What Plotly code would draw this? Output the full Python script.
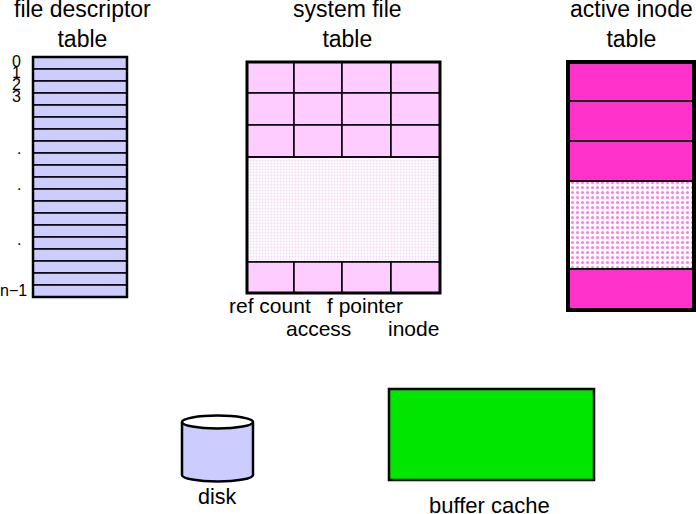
import plotly.graph_objects as go

# 文本与结构数据
titles = ['file descriptor<br>table', 'system file<br>table', 'active inode<br>table']
fd_row_count = 20
fd_row_labels = ['0', '1', '2', '3', '.', '.', '.', 'n\u22121']
fd_label_y = [61, 72, 84, 96, 148, 184, 239, 290]
sft_columns = ['ref count', 'access', 'f pointer', 'inode']
sft_rows = ['entry', 'entry', 'entry', 'free', 'entry']
inode_rows = ['entry', 'entry', 'entry', 'free', 'entry']
bottom_labels = ['disk', 'buffer cache']

FONT = 'Liberation Sans, Arial, sans-serif'
W, H = 696, 514

fig = go.Figure()
shapes = []
annotations = []


def rect(x0, y0, x1, y1, fill, lw=1.5, lc='black', layer='above'):
    shapes.append(dict(type='rect', x0=x0, y0=y0, x1=x1, y1=y1,
                       fillcolor=fill, line=dict(color=lc, width=lw), layer=layer))


def dotted(x0, y0, x1, y1, fg, size, solidity):
    fig.add_trace(go.Scatter(
        x=[x0, x1, x1, x0, x0], y=[y0, y0, y1, y1, y0],
        mode='lines', fill='toself', line=dict(width=0),
        fillpattern=dict(shape='.', fgcolor=fg, bgcolor='white',
                         size=size, solidity=solidity),
        hoverinfo='skip', showlegend=False))


def text(x, y, s, size, xanchor='center'):
    annotations.append(dict(x=x, y=y, text=s, showarrow=False, xanchor=xanchor,
                            yanchor='middle', font=dict(family=FONT, size=size, color='black')))


# 标题
for cx, t in zip([82, 347, 631], titles):
    annotations.append(dict(x=cx, y=24, text=t, showarrow=False, xanchor='center',
                            yanchor='middle', align='center',
                            font=dict(family=FONT, size=23, color='black')))

# file descriptor table
fx0, fx1, fy0, fy1 = 33, 127, 57, 297
rh = (fy1 - fy0) / fd_row_count
for i in range(fd_row_count):
    rect(fx0, fy0 + i * rh, fx1, fy0 + (i + 1) * rh, '#ccccff', lw=1.5)
shapes.append(dict(type='rect', x0=fx0, y0=fy0, x1=fx1, y1=fy1,
                   line=dict(color='black', width=2.5)))
for lab, ly in zip(fd_row_labels, fd_label_y):
    if lab.startswith('n'):
        text(29, ly, lab, 16, 'right')
    else:
        text(23, ly, lab, 16, 'right')

# system file table
sx = [247, 294, 342, 391, 440]
sy = [62, 93, 125, 157, 262, 293]
for r, kind in enumerate(sft_rows):
    if kind == 'free':
        dotted(sx[0], sy[r], sx[-1], sy[r + 1], '#f0b0f0', 3, 0.4)
        shapes.append(dict(type='line', x0=sx[0], x1=sx[-1], y0=sy[r], y1=sy[r],
                           line=dict(color='black', width=1.5)))
        shapes.append(dict(type='line', x0=sx[0], x1=sx[-1], y0=sy[r + 1], y1=sy[r + 1],
                           line=dict(color='black', width=1.5)))
    else:
        for c in range(len(sx) - 1):
            rect(sx[c], sy[r], sx[c + 1], sy[r + 1], '#ffccff', lw=1.5)
shapes.append(dict(type='rect', x0=sx[0], y0=sy[0], x1=sx[-1], y1=sy[-1],
                   line=dict(color='black', width=3)))
text(270, 305, sft_columns[0], 21)
text(318, 328, sft_columns[1], 21)
text(365, 305, sft_columns[2], 21)
text(413, 328, sft_columns[3], 21)

# active inode table
ix0, ix1 = 568, 694
iy = [62, 101, 141, 181, 269, 310]
for r, kind in enumerate(inode_rows):
    if kind == 'free':
        dotted(ix0, iy[r], ix1, iy[r + 1], '#ff00cc', 5, 0.3)
        shapes.append(dict(type='line', x0=ix0, x1=ix1, y0=iy[r], y1=iy[r],
                           line=dict(color='black', width=1.5)))
        shapes.append(dict(type='line', x0=ix0, x1=ix1, y0=iy[r + 1], y1=iy[r + 1],
                           line=dict(color='black', width=1.5)))
    else:
        rect(ix0, iy[r], ix1, iy[r + 1], '#ff33cc', lw=1.5)
shapes.append(dict(type='rect', x0=ix0, y0=iy[0], x1=ix1, y1=iy[-1],
                   line=dict(color='black', width=4)))

# disk (cylinder)
dx0, dx1, dtop, dbot, ry = 182, 253, 422, 475, 6.5
shapes.append(dict(type='circle', x0=dx0, x1=dx1, y0=dbot - ry, y1=dbot + ry,
                   fillcolor='#ccccff', line=dict(color='black', width=2.5)))
shapes.append(dict(type='rect', x0=dx0, x1=dx1, y0=dtop, y1=dbot,
                   fillcolor='#ccccff', line=dict(width=0)))
for xx in (dx0, dx1):
    shapes.append(dict(type='line', x0=xx, x1=xx, y0=dtop, y1=dbot,
                       line=dict(color='black', width=2.5)))
shapes.append(dict(type='circle', x0=dx0, x1=dx1, y0=dtop - ry, y1=dtop + ry,
                   fillcolor='white', line=dict(color='black', width=2.5)))
text(217, 497, bottom_labels[0], 21.5)

# buffer cache
rect(389, 389, 594, 480, '#00e600', lw=2.5)
text(489, 505, bottom_labels[1], 22)

fig.update_layout(
    width=W, height=H, autosize=False,
    margin=dict(l=0, r=0, t=0, b=0),
    paper_bgcolor='white', plot_bgcolor='white',
    xaxis=dict(range=[0, W], visible=False, fixedrange=True),
    yaxis=dict(range=[H, 0], visible=False, fixedrange=True),
    shapes=shapes, annotations=annotations, showlegend=False,
)

# 去掉页面默认的 8px 边距，使图与窗口对齐
fig.write_html("out.html", config=dict(displayModeBar=False),
               post_script="document.body.style.margin='0';")
